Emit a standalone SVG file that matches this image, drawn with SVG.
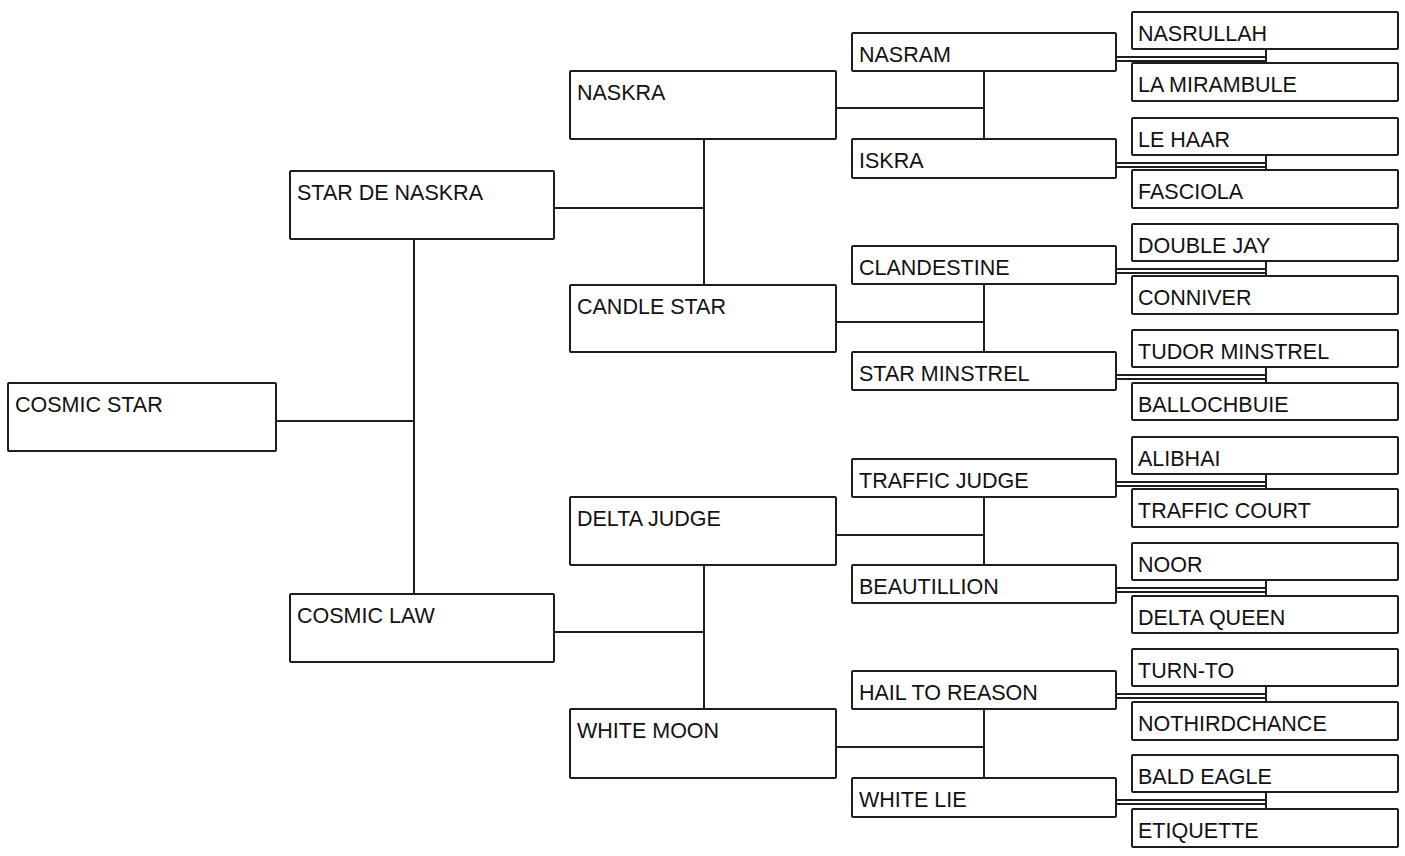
<svg xmlns="http://www.w3.org/2000/svg" width="1405" height="856" viewBox="0 0 1405 856">
<style>
rect.b{fill:#ffffff;stroke:#1e1e1e;stroke-width:2}
text{font-family:"Liberation Sans",Arial,sans-serif;font-size:21.5px;fill:#111111}
.c line{stroke:#1e1e1e;stroke-width:2}
</style>
<rect width="1405" height="856" fill="#ffffff"/>
<g class="c" id="connectors">
<line x1="276" y1="421" x2="414" y2="421"/>
<line x1="414" y1="239" x2="414" y2="594"/>
<line x1="554" y1="208" x2="704" y2="208"/>
<line x1="704" y1="139" x2="704" y2="285"/>
<line x1="554" y1="632" x2="704" y2="632"/>
<line x1="704" y1="565" x2="704" y2="709"/>
<line x1="836" y1="108" x2="984" y2="108"/>
<line x1="984" y1="71" x2="984" y2="139"/>
<line x1="836" y1="322" x2="984" y2="322"/>
<line x1="984" y1="284" x2="984" y2="352"/>
<line x1="836" y1="535" x2="984" y2="535"/>
<line x1="984" y1="497" x2="984" y2="565"/>
<line x1="836" y1="747" x2="984" y2="747"/>
<line x1="984" y1="709" x2="984" y2="778"/>
<line x1="1116" y1="57" x2="1266" y2="57"/><line x1="1116" y1="61" x2="1266" y2="61"/><line x1="1266" y1="49" x2="1266" y2="63"/>
<line x1="1116" y1="163" x2="1266" y2="163"/><line x1="1116" y1="167" x2="1266" y2="167"/><line x1="1266" y1="155" x2="1266" y2="170"/>
<line x1="1116" y1="269" x2="1266" y2="269"/><line x1="1116" y1="273" x2="1266" y2="273"/><line x1="1266" y1="261" x2="1266" y2="276"/>
<line x1="1116" y1="375" x2="1266" y2="375"/><line x1="1116" y1="379" x2="1266" y2="379"/><line x1="1266" y1="367" x2="1266" y2="383"/>
<line x1="1116" y1="482" x2="1266" y2="482"/><line x1="1116" y1="486" x2="1266" y2="486"/><line x1="1266" y1="474" x2="1266" y2="489"/>
<line x1="1116" y1="588" x2="1266" y2="588"/><line x1="1116" y1="592" x2="1266" y2="592"/><line x1="1266" y1="580" x2="1266" y2="596"/>
<line x1="1116" y1="694" x2="1266" y2="694"/><line x1="1116" y1="698" x2="1266" y2="698"/><line x1="1266" y1="686" x2="1266" y2="702"/>
<line x1="1116" y1="800" x2="1266" y2="800"/><line x1="1116" y1="804" x2="1266" y2="804"/><line x1="1266" y1="792" x2="1266" y2="809"/>
</g>
<g id="cosmic-star"><rect class="b" x="8" y="383" width="268" height="68" rx="1"/><text x="15" y="411.5">COSMIC STAR</text></g>
<g id="star-de-naskra"><rect class="b" x="290" y="171" width="264" height="68" rx="1"/><text x="297" y="199.5">STAR DE NASKRA</text></g>
<g id="cosmic-law"><rect class="b" x="290" y="594" width="264" height="68" rx="1"/><text x="297" y="622.5">COSMIC LAW</text></g>
<g id="naskra"><rect class="b" x="570" y="71" width="266" height="68" rx="1"/><text x="577" y="99.5">NASKRA</text></g>
<g id="candle-star"><rect class="b" x="570" y="285" width="266" height="67" rx="1"/><text x="577" y="313.5">CANDLE STAR</text></g>
<g id="delta-judge"><rect class="b" x="570" y="497" width="266" height="68" rx="1"/><text x="577" y="525.5">DELTA JUDGE</text></g>
<g id="white-moon"><rect class="b" x="570" y="709" width="266" height="69" rx="1"/><text x="577" y="737.5">WHITE MOON</text></g>
<g id="nasram"><rect class="b" x="852" y="33" width="264" height="38" rx="1"/><text x="859" y="61.5">NASRAM</text></g>
<g id="iskra"><rect class="b" x="852" y="139" width="264" height="39" rx="1"/><text x="859" y="167.5">ISKRA</text></g>
<g id="clandestine"><rect class="b" x="852" y="246" width="264" height="38" rx="1"/><text x="859" y="274.5">CLANDESTINE</text></g>
<g id="star-minstrel"><rect class="b" x="852" y="352" width="264" height="38" rx="1"/><text x="859" y="380.5">STAR MINSTREL</text></g>
<g id="traffic-judge"><rect class="b" x="852" y="459" width="264" height="38" rx="1"/><text x="859" y="487.5">TRAFFIC JUDGE</text></g>
<g id="beautillion"><rect class="b" x="852" y="565" width="264" height="38" rx="1"/><text x="859" y="593.5">BEAUTILLION</text></g>
<g id="hail-to-reason"><rect class="b" x="852" y="671" width="264" height="38" rx="1"/><text x="859" y="699.5">HAIL TO REASON</text></g>
<g id="white-lie"><rect class="b" x="852" y="778" width="264" height="39" rx="1"/><text x="859" y="806.5">WHITE LIE</text></g>
<g id="nasrullah"><rect class="b" x="1132" y="12" width="266" height="37" rx="1"/><text x="1138" y="40.5">NASRULLAH</text></g>
<g id="la-mirambule"><rect class="b" x="1132" y="63" width="266" height="38" rx="1"/><text x="1138" y="91.5">LA MIRAMBULE</text></g>
<g id="le-haar"><rect class="b" x="1132" y="118" width="266" height="37" rx="1"/><text x="1138" y="146.5">LE HAAR</text></g>
<g id="fasciola"><rect class="b" x="1132" y="170" width="266" height="38" rx="1"/><text x="1138" y="198.5">FASCIOLA</text></g>
<g id="double-jay"><rect class="b" x="1132" y="224" width="266" height="37" rx="1"/><text x="1138" y="252.5">DOUBLE JAY</text></g>
<g id="conniver"><rect class="b" x="1132" y="276" width="266" height="38" rx="1"/><text x="1138" y="304.5">CONNIVER</text></g>
<g id="tudor-minstrel"><rect class="b" x="1132" y="330" width="266" height="37" rx="1"/><text x="1138" y="358.5">TUDOR MINSTREL</text></g>
<g id="ballochbuie"><rect class="b" x="1132" y="383" width="266" height="37" rx="1"/><text x="1138" y="411.5">BALLOCHBUIE</text></g>
<g id="alibhai"><rect class="b" x="1132" y="437" width="266" height="37" rx="1"/><text x="1138" y="465.5">ALIBHAI</text></g>
<g id="traffic-court"><rect class="b" x="1132" y="489" width="266" height="38" rx="1"/><text x="1138" y="517.5">TRAFFIC COURT</text></g>
<g id="noor"><rect class="b" x="1132" y="543" width="266" height="37" rx="1"/><text x="1138" y="571.5">NOOR</text></g>
<g id="delta-queen"><rect class="b" x="1132" y="596" width="266" height="37" rx="1"/><text x="1138" y="624.5">DELTA QUEEN</text></g>
<g id="turn-to"><rect class="b" x="1132" y="649" width="266" height="37" rx="1"/><text x="1138" y="677.5">TURN-TO</text></g>
<g id="nothirdchance"><rect class="b" x="1132" y="702" width="266" height="38" rx="1"/><text x="1138" y="730.5">NOTHIRDCHANCE</text></g>
<g id="bald-eagle"><rect class="b" x="1132" y="755" width="266" height="37" rx="1"/><text x="1138" y="783.5">BALD EAGLE</text></g>
<g id="etiquette"><rect class="b" x="1132" y="809" width="266" height="38" rx="1"/><text x="1138" y="837.5">ETIQUETTE</text></g>
</svg>
